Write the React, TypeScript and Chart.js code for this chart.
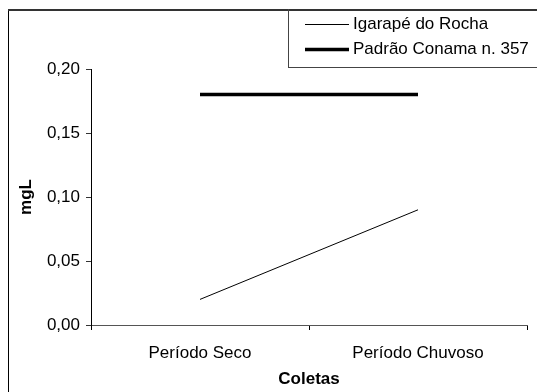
import React, { useEffect, useRef } from 'react';
import { Chart, registerables } from 'chart.js';

Chart.register(...registerables);

const categories = ['Período Seco', 'Período Chuvoso'];
const igarapeValues = [0.02, 0.09];
const conamaValues = [0.18, 0.18];
const yTickValues = [0, 0.05, 0.1, 0.15, 0.2];
const seriesLabels = ['Igarapé do Rocha', 'Padrão Conama n. 357'];
const yTitle = 'mgL';
const xTitle = 'Coletas';

const FONT = '"Liberation Sans", Arial, sans-serif';

const frameLegendPlugin = {
  id: 'frameLegend',
  afterDraw(chart: any) {
    const ctx = chart.ctx;
    ctx.save();
    ctx.fillStyle = '#000';
    ctx.fillRect(8, 9, 1, 400);
    ctx.fillStyle = '#333';
    ctx.fillRect(8, 9, 540, 2);
    ctx.fillStyle = '#444';
    ctx.fillRect(288, 9, 1, 59);
    ctx.fillRect(288, 67, 260, 1);
    chart.data.datasets.forEach((ds: any, i: number) => {
      const y = 24.5 + i * 25;
      ctx.strokeStyle = ds.borderColor;
      ctx.lineWidth = ds.borderWidth;
      ctx.beginPath();
      ctx.moveTo(305, y);
      ctx.lineTo(349, y);
      ctx.stroke();
      ctx.fillStyle = '#000';
      ctx.font = `17px ${FONT}`;
      ctx.textBaseline = 'middle';
      ctx.textAlign = 'left';
      ctx.fillText(ds.label, 353, y);
    });
    ctx.restore();
  },
};

export default function App() {
  const ref = useRef<HTMLCanvasElement>(null);
  useEffect(() => {
    document.body.style.margin = '0';
    document.body.style.overflow = 'hidden';
    const canvas = ref.current!;
    const chart = new Chart(canvas, {
      type: 'line',
      data: {
        labels: categories,
        datasets: [
          {
            label: seriesLabels[0],
            data: igarapeValues,
            borderColor: '#000',
            borderWidth: 1,
            pointRadius: 0,
            tension: 0,
          },
          {
            label: seriesLabels[1],
            data: conamaValues,
            borderColor: '#000',
            borderWidth: 3.5,
            pointRadius: 0,
            tension: 0,
          },
        ],
      },
      options: {
        animation: false,
        responsive: false,
        devicePixelRatio: 1,
        layout: { padding: { top: 69, right: 10, left: 0, bottom: 0 } },
        plugins: { legend: { display: false }, tooltip: { enabled: false } },
        scales: {
          x: {
            type: 'category',
            offset: true,
            grid: {
              offset: true,
              drawOnChartArea: false,
              drawTicks: true,
              tickLength: 5,
              color: '#000',
            },
            border: { display: true, color: '#555', width: 1 },
            ticks: { padding: 13, color: '#000', font: { family: FONT, size: 17 }, maxRotation: 0 },
            title: {
              display: true,
              text: xTitle,
              color: '#000',
              font: { family: FONT, size: 17, weight: 'bold' },
              padding: { top: 0, bottom: 2 },
            },
            afterFit(s: any) {
              s.height = 67;
            },
          },
          y: {
            min: 0,
            max: 0.2,
            afterBuildTicks(s: any) {
              s.ticks = yTickValues.map((v) => ({ value: v }));
            },
            grid: {
              drawOnChartArea: false,
              drawTicks: true,
              tickLength: 5,
              color: '#333',
            },
            border: { display: true, color: '#000', width: 1 },
            ticks: {
              padding: 6,
              color: '#000',
              font: { family: FONT, size: 17 },
              callback: (v: any) => Number(v).toFixed(2).replace('.', ','),
            },
            title: {
              display: true,
              text: yTitle,
              color: '#000',
              font: { family: FONT, size: 17, weight: 'bold' },
              padding: { top: 16, bottom: 0 },
            },
            afterFit(s: any) {
              s.width = 91;
            },
          },
        },
      },
      plugins: [frameLegendPlugin],
    });
    return () => chart.destroy();
  }, []);
  return (
    <div style={{ width: 537, height: 392 }}>
      <canvas ref={ref} width={537} height={392} style={{ display: 'block' }} />
    </div>
  );
}
